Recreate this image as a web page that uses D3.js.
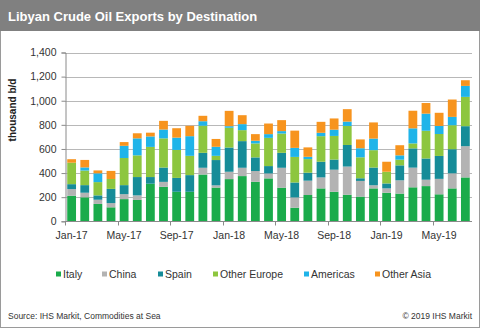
<!DOCTYPE html>
<html><head><meta charset="utf-8">
<script src="https://cdn.jsdelivr.net/npm/d3@7"></script>
<style>body{margin:0;background:#fff;}svg{display:block;font-family:"Liberation Sans",Arial,sans-serif;}</style>
</head><body>
<svg id="chart" width="480" height="328"></svg>
<script>
const months = ["Jan-17","Feb-17","Mar-17","Apr-17","May-17","Jun-17","Jul-17","Aug-17","Sep-17","Oct-17","Nov-17","Dec-17",
"Jan-18","Feb-18","Mar-18","Apr-18","May-18","Jun-18","Jul-18","Aug-18","Sep-18","Oct-18","Nov-18","Dec-18",
"Jan-19","Feb-19","Mar-19","Apr-19","May-19","Jun-19","Jul-19"];
const seriesNames = ["Italy","China","Spain","Other Europe","Americas","Other Asia"];
const italy       = [212,199,144,116,184,177,312,286,245,245,388,280,350,375,328,356,279,113,218,273,245,220,205,273,237,230,282,292,224,273,364];
const china       = [ 55, 38, 35, 35, 41, 38,  0, 41,  0,  0, 56, 18, 61, 69, 89, 41,165, 85,119, 91,183,234,130, 26, 36,110,163, 53,128,125,259];
const spain       = [ 41, 63, 36,118, 75,152, 55,119,115,138,124,210,201,221,113, 61,124,124, 66,130, 84,179, 22,147, 41,124,160,176,190,200,166];
const otherEurope = [178,121,110, 82,225,180,250,242,232,160,225, 35,164, 91,116,234,160,212,113,212,196,158,174,144, 97, 47, 41,230,182,199,243];
const americas    = [  0, 26, 73,  0,101,141, 87, 73,102,163, 37, 75, 13, 50, 22, 31, 20, 75, 19, 28, 52, 36, 75, 96,  0, 36,125,142, 67, 69, 91];
const otherAsia   = [ 29, 62, 24, 67, 31, 42, 31, 72, 78, 86, 45, 65,127, 74, 55, 88, 91,143, 78, 91, 93,103, 73,134, 83, 84,146, 88,109,144, 47];
const yTicks = [0,200,400,600,800,1000,1200,1400];
const xLabelEvery = 4;
const colors = ["#1aab4b","#b3b3b3","#168c98","#8dc63f","#1fb4e9","#f7941e"];

const seriesValues = [italy, china, spain, otherEurope, americas, otherAsia];
const rows = months.map((m,i)=>{const r={month:m}; seriesNames.forEach((s,k)=>r[s]=seriesValues[k][i]); return r;});

const svg = d3.select("#chart");
const W=480,H=328;
svg.append("rect").attr("x",0.5).attr("y",0.5).attr("width",W-1).attr("height",H-1).attr("fill","#fff").attr("stroke","#9a9a9a");
svg.append("rect").attr("x",0).attr("y",0).attr("width",W).attr("height",31).attr("fill","#808080");
svg.append("text").attr("x",8).attr("y",21).attr("fill","#fff").attr("font-size","13px").attr("font-weight","bold").text("Libyan Crude Oil Exports by Destination");

const m={left:65,right:472,top:52.5,bottom:221.3};
const x=d3.scaleBand().domain(months).range([m.left,m.right]).paddingInner(0.33).paddingOuter(0.17);
const y=d3.scaleLinear().domain([0,1400]).range([m.bottom,m.top]);

svg.append("g").selectAll("line").data(yTicks.filter(d=>d>0)).join("line")
 .attr("x1",m.left).attr("x2",m.right).attr("y1",d=>Math.round(y(d))+0.5).attr("y2",d=>Math.round(y(d))+0.5)
 .attr("stroke","#b8b8b8").attr("stroke-width",1);

const stack=d3.stack().keys(seriesNames)(rows);
svg.append("g").selectAll("g").data(stack).join("g").attr("fill",(d,i)=>colors[i])
 .selectAll("rect").data(d=>d).join("rect")
 .attr("x",d=>x(d.data.month)).attr("width",x.bandwidth())
 .attr("y",d=>y(d[1])).attr("height",d=>Math.max(0,y(d[0])-y(d[1])));

const yAxis=d3.axisLeft(y).tickValues(yTicks).tickSize(4).tickPadding(5).tickFormat(d3.format(","));
const gy=svg.append("g").attr("transform",`translate(${m.left+0.5},0)`).call(yAxis);
gy.select(".domain").attr("stroke","#8a8a8a");
gy.selectAll(".tick line").attr("stroke","#8a8a8a");
gy.selectAll("text").attr("font-size","10.5px").attr("fill","#333").attr("font-family","Liberation Sans, Arial, sans-serif");

const gx=svg.append("g").attr("transform",`translate(0,${Math.round(m.bottom)+0.5})`);
gx.append("line").attr("x1",m.left).attr("x2",m.right).attr("stroke","#8a8a8a");
const labelled=months.filter((d,i)=>i%xLabelEvery===0);
gx.selectAll("line.tk").data(labelled).join("line").attr("class","tk")
 .attr("x1",d=>Math.round(x(d)-x.step()*x.paddingInner()/2)+0.5).attr("x2",d=>Math.round(x(d)-x.step()*x.paddingInner()/2)+0.5)
 .attr("y1",0).attr("y2",4).attr("stroke","#8a8a8a");
gx.selectAll("text").data(labelled).join("text")
 .attr("x",d=>x(d)+x.bandwidth()/2).attr("y",17).attr("text-anchor","middle")
 .attr("font-size","10.5px").attr("fill","#333").text(d=>d);

svg.append("text").attr("transform","translate(16,110) rotate(-90)").attr("text-anchor","middle")
 .attr("font-size","10px").attr("font-weight","bold").attr("fill","#222").text("thousand b/d");

const legendX=[56,102,158,213,304,375];
const lg=svg.append("g").selectAll("g").data(seriesNames).join("g").attr("transform",(d,i)=>`translate(${legendX[i]},274)`);
lg.append("rect").attr("x",0).attr("y",-2.5).attr("width",5).attr("height",5).attr("fill",(d,i)=>colors[i]);
lg.append("text").attr("x",7).attr("y",4).attr("font-size","10.5px").attr("fill","#333").text(d=>d);

svg.append("text").attr("x",8).attr("y",319).attr("font-size","8.5px").attr("fill","#333").text("Source: IHS Markit, Commodities at Sea");
svg.append("text").attr("x",472).attr("y",319).attr("text-anchor","end").attr("font-size","8.5px").attr("fill","#333").text("© 2019 IHS Markit");
</script>
</body></html>
